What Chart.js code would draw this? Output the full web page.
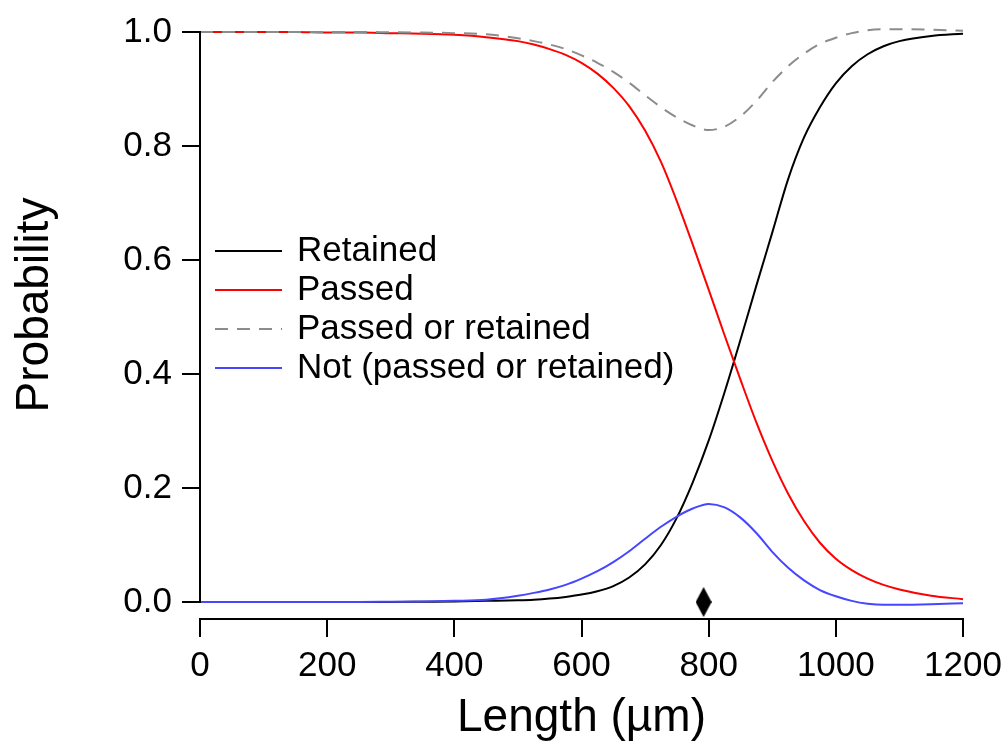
<!DOCTYPE html>
<html>
<head>
<meta charset="utf-8">
<script src="https://cdn.jsdelivr.net/npm/chart.js@4.4.1/dist/chart.umd.min.js"></script>
<style>
  html, body { margin: 0; padding: 0; background: #fff; }
  #wrap { width: 1008px; height: 746px; }
</style>
</head>
<body>
<div id="wrap"><canvas id="chart" width="1008" height="746"></canvas></div>
<script>
// values
const lengths   = [0, 50, 100, 150, 200, 250, 300, 350, 400, 450,
                   500, 525, 550, 575, 600, 625, 650, 675, 700, 725, 750, 775, 800, 825, 850,
                   875, 900, 925, 950, 975, 1000, 1025, 1050, 1075, 1100, 1150, 1200];
const retained  = [0, 0, 0, 0, 0, 0, 0, 0.0005, 0.001, 0.002,
                   0.003, 0.004, 0.006, 0.009, 0.013, 0.019, 0.028, 0.043, 0.066, 0.1, 0.148, 0.21, 0.283, 0.368, 0.46,
                   0.555, 0.648, 0.742, 0.815, 0.868, 0.91, 0.94, 0.961, 0.975, 0.984, 0.993, 0.997];
const passed    = [1, 1, 1, 1, 0.999, 0.999, 0.998, 0.997, 0.995, 0.991,
                   0.984, 0.978, 0.97, 0.96, 0.946, 0.927, 0.902, 0.87, 0.827, 0.772, 0.703, 0.627, 0.548, 0.468, 0.39,
                   0.315, 0.248, 0.19, 0.142, 0.104, 0.076, 0.056, 0.041, 0.03, 0.022, 0.011, 0.005];
const either    = [1, 1, 1, 1, 1, 1, 0.9995, 0.999, 0.998, 0.996,
                   0.989, 0.984, 0.978, 0.97, 0.959, 0.946, 0.93, 0.911, 0.889, 0.868, 0.85, 0.836, 0.828, 0.834, 0.852,
                   0.879, 0.912, 0.94, 0.962, 0.979, 0.99, 0.998, 1.003, 1.005, 1.005, 1.004, 1.002];
const neither   = [0, 0, 0, 0, 0, 0, 0.0005, 0.001, 0.002, 0.004,
                   0.011, 0.016, 0.022, 0.03, 0.041, 0.054, 0.07, 0.089, 0.111, 0.132, 0.15, 0.164, 0.172, 0.166, 0.148,
                   0.121, 0.088, 0.06, 0.038, 0.021, 0.01, 0.002, -0.003, -0.005, -0.005, -0.004, -0.002];
const markerX   = [792];
const markerY   = [0];
const xTicks    = [0, 200, 400, 600, 800, 1000, 1200];
const yTicks    = [0, 0.2, 0.4, 0.6, 0.8, 1.0];

const family = '"Liberation Sans", Arial, sans-serif';

function pts(ys) {
  return lengths.map((x, i) => ({ x: x, y: ys[i] }));
}

// tall diamond used as the marker on the x axis
const diamond = document.createElement("canvas");
diamond.width = 16;
diamond.height = 30;
const dc = diamond.getContext("2d");
dc.fillStyle = "#000";
dc.beginPath();
dc.moveTo(8, 0);
dc.lineTo(16, 15);
dc.lineTo(8, 30);
dc.lineTo(0, 15);
dc.closePath();
dc.fill();

function line(label, ys, color, dash, order) {
  return {
    type: "line",
    label: label,
    data: pts(ys),
    borderColor: color,
    backgroundColor: color,
    borderWidth: 2,
    borderDash: dash,
    pointRadius: 0,
    cubicInterpolationMode: "monotone",
    clip: false,
    order: order
  };
}

// y axis line only spans 0..1, plus the rotated y title
const yAxisLine = {
  id: "yAxisLine",
  afterDatasetsDraw(chart) {
    const { ctx, chartArea, scales } = chart;
    ctx.save();
    ctx.strokeStyle = "#000";
    ctx.lineWidth = 2;
    ctx.beginPath();
    ctx.moveTo(chartArea.left, scales.y.getPixelForValue(1) - 1);
    ctx.lineTo(chartArea.left, scales.y.getPixelForValue(0) + 1);
    ctx.stroke();
    ctx.translate(35, 305);
    ctx.rotate(-Math.PI / 2);
    ctx.font = "46px " + family;
    ctx.fillStyle = "#000";
    ctx.textAlign = "center";
    ctx.textBaseline = "middle";
    ctx.fillText("Probability", 0, 0);
    ctx.restore();
  }
};

// legend inside the plot, left side
const insideLegend = {
  id: "insideLegend",
  afterDraw(chart) {
    const ctx = chart.ctx;
    const items = chart.data.datasets.filter(d => d.label);
    ctx.save();
    ctx.font = "35px " + family;
    ctx.textBaseline = "middle";
    ctx.fillStyle = "#000";
    items.forEach((d, i) => {
      const y = 251 + i * 39;
      ctx.strokeStyle = d.borderColor;
      ctx.lineWidth = 2;
      ctx.setLineDash(d.borderDash || []);
      ctx.beginPath();
      ctx.moveTo(215, y);
      ctx.lineTo(282, y);
      ctx.stroke();
      ctx.setLineDash([]);
      ctx.fillText(d.label, 297, y);
    });
    ctx.restore();
  }
};

const ctx = document.getElementById("chart").getContext("2d");
const chart = new Chart(ctx, {
  data: {
    datasets: [
      line("Retained", retained, "#000000", [], 4),
      line("Passed", passed, "#ff0000", [], 3),
      line("Passed or retained", either, "#8c8c8c", [13, 9], 2),
      line("Not (passed or retained)", neither, "#4646ff", [], 1),
      {
        type: "scatter",
        data: markerX.map((x, i) => ({ x: x, y: markerY[i] })),
        pointStyle: diamond,
        pointRadius: 15,
        clip: false,
        order: 0
      }
    ]
  },
  options: {
    responsive: false,
    animation: false,
    devicePixelRatio: 1,
    layout: { padding: { left: 0, right: 45, top: 32, bottom: 0 } },
    plugins: {
      legend: { display: false },
      tooltip: { enabled: false }
    },
    scales: {
      x: {
        type: "linear",
        min: 0,
        max: 1200,
        afterBuildTicks: s => { s.ticks = xTicks.map(v => ({ value: v })); },
        afterFit: s => { s.height = 127; s.paddingLeft = 0; s.paddingRight = 0; },
        border: { display: true, color: "#000", width: 2 },
        grid: { drawOnChartArea: false, tickLength: 18, color: "#000", lineWidth: 2 },
        ticks: { color: "#000", font: { size: 35, family: family }, padding: 8, maxRotation: 0, autoSkip: false,
                 callback: v => String(v) },
        title: { display: true, text: "Length (µm)", color: "#000", font: { size: 46, family: family }, padding: { top: 0, bottom: 0 } }
      },
      y: {
        type: "linear",
        min: -0.0298,
        max: 1,
        afterBuildTicks: s => { s.ticks = yTicks.map(v => ({ value: v })); },
        afterFit: s => { s.width = 200; },
        border: { display: false },
        grid: { drawOnChartArea: false, tickLength: 18, color: "#000", lineWidth: 2 },
        ticks: { color: "#000", font: { size: 35, family: family }, padding: 10, callback: v => v.toFixed(1) }
      }
    }
  },
  plugins: [yAxisLine, insideLegend]
});
</script>
</body>
</html>
